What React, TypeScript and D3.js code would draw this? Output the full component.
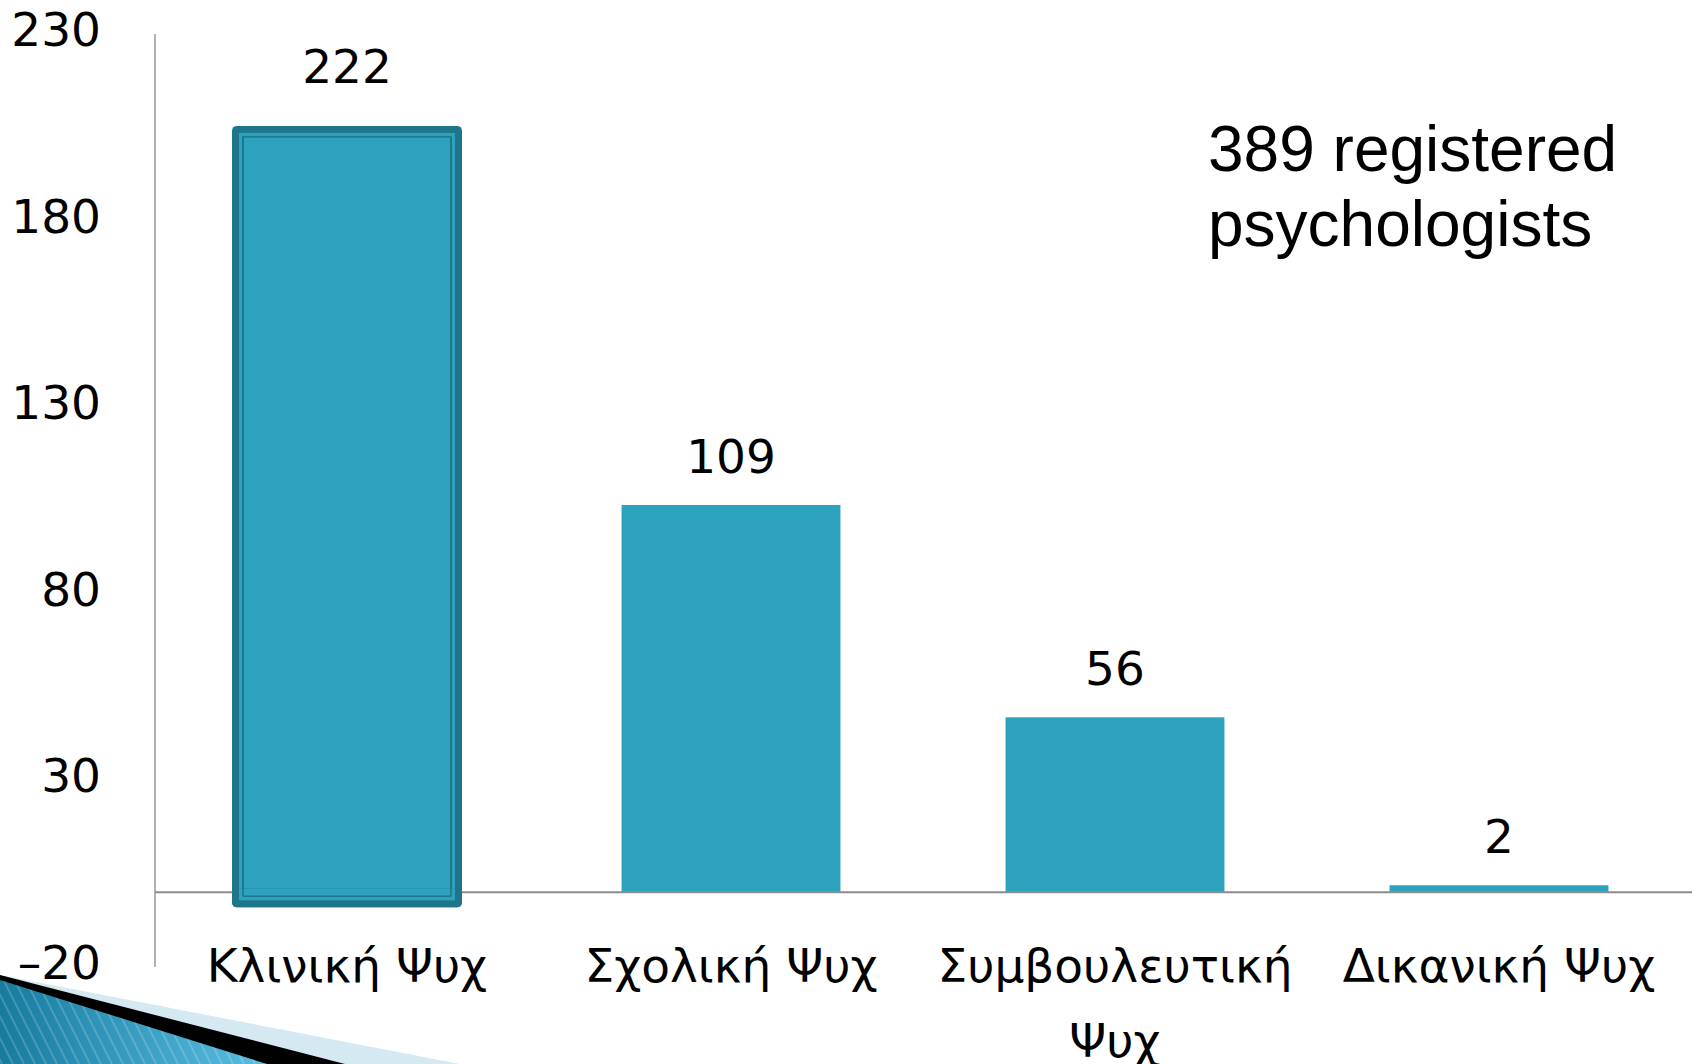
import * as d3 from "d3";

const categories = ["Κλινική Ψυχ", "Σχολική Ψυχ", "Συμβουλευτική Ψυχ", "Δικανική Ψυχ"];
// bar heights as read against the value axis
const barValues = [203.5, 103.8, 46.9, 1.9];
// data labels printed above the bars
const valueLabels = ["222", "109", "56", "2"];
const yTicks = [-20, 30, 80, 130, 180, 230];
const noteLines = ["389 registered", "psychologists"];

const width = 1696;
const height = 1064;
const axisX = 155;
const barColor = "#2ca2bf";
const borderColor = "#1f7589";
const font = "'DejaVu Sans', sans-serif";

const wrap = (s: string) => {
  if (s.length <= 13) return [s];
  const i = s.lastIndexOf(" ");
  return [s.slice(0, i), s.slice(i + 1)];
};

const App = () => {
  const xScale = d3
    .scaleBand()
    .domain(categories)
    .range([axisX, 1691])
    .paddingInner(0.43)
    .paddingOuter(0.215);

  const yScale = d3.scaleLinear().domain([-20, 230]).range([967, 34]);
  const base = yScale(0);
  const bw = xScale.bandwidth();

  // stripes for the corner ornament
  const stripes = d3.range(-120, 300, 11);

  return (
    <svg
      width={width}
      height={height}
      style={{ position: "absolute", left: 0, top: 0, background: "#fff" }}
    >
      <defs>
        <linearGradient id="corner" x1="0" x2="1" y1="0" y2="0">
          <stop offset="0%" stopColor="#177b9e" />
          <stop offset="100%" stopColor="#5cc2e6" />
        </linearGradient>
        <clipPath id="cornerClip">
          <polygon points={`0,980 267,1064 0,1064`} />
        </clipPath>
      </defs>

      {/* axes */}
      <line x1={axisX} x2={axisX} y1={yScale(230)} y2={yScale(-20)} stroke="#999" strokeWidth={1.5} />

      <g className="y-ticks" fontFamily={font} fontSize={47} fill="#000">
        {yTicks.map((t) => (
          <text key={t} x={101} y={yScale(t) + 12} textAnchor="end">
            {t < 0 ? `–${Math.abs(t)}` : t}
          </text>
        ))}
      </g>

      <g className="bars">
        {categories.map((c, i) => {
          const bx = xScale(c)!;
          const top = yScale(barValues[i]);
          const cx = bx + bw / 2;
          if (i === 0) {
            return (
              <g key={c}>
                <rect x={cx - 115} y={top - 7} width={230} height={base + 15 - (top - 7)} rx={5} fill={borderColor} />
                <rect x={cx - 108} y={top} width={216} height={base + 8 - top} fill={barColor} />
                <rect
                  x={cx - 104}
                  y={top + 4}
                  width={208}
                  height={base + 4 - (top + 4)}
                  fill="none"
                  stroke={borderColor}
                  strokeWidth={1.5}
                />
              </g>
            );
          }
          return <rect key={c} x={bx} y={top} width={bw} height={base - top} fill={barColor} />;
        })}
      </g>

      <line x1={axisX} x2={1692} y1={base} y2={base} stroke="#8c8c8c" strokeWidth={2} />

      {/* redraw highlighted bar over baseline */}
      {(() => {
        const c = categories[0];
        const cx = xScale(c)! + bw / 2;
        const top = yScale(barValues[0]);
        return (
          <g>
            <rect x={cx - 115} y={base - 4} width={230} height={19} rx={5} fill={borderColor} />
            <rect x={cx - 108} y={base - 4} width={216} height={12} fill={barColor} />
            <line x1={cx - 104} x2={cx + 104} y1={base + 4} y2={base + 4} stroke={borderColor} strokeWidth={1.5} />
            <line x1={cx - 104} x2={cx - 104} y1={top + 4} y2={base + 4} stroke={borderColor} strokeWidth={1.5} />
            <line x1={cx + 104} x2={cx + 104} y1={top + 4} y2={base + 4} stroke={borderColor} strokeWidth={1.5} />
          </g>
        );
      })()}

      <g className="value-labels" fontFamily={font} fontSize={47} textAnchor="middle">
        {categories.map((c, i) => {
          const top = yScale(barValues[i]);
          const y = i === 0 ? top - 50 : top - 32;
          return (
            <text key={c} x={xScale(c)! + bw / 2} y={y}>
              {valueLabels[i]}
            </text>
          );
        })}
      </g>

      <g className="x-labels" fontFamily={font} fontSize={47} textAnchor="middle">
        {categories.map((c) => (
          <text key={c} x={xScale(c)! + bw / 2} y={982}>
            {wrap(c).map((line, j) => (
              <tspan key={j} x={xScale(c)! + bw / 2} dy={j === 0 ? 0 : 75}>
                {line}
              </tspan>
            ))}
          </text>
        ))}
      </g>

      <g className="note" fontFamily="'Liberation Sans', Arial, sans-serif" fontSize={64}>
        {noteLines.map((l, i) => (
          <text key={l} x={1208} y={171 + i * 75}>
            {l}
          </text>
        ))}
      </g>

      {/* corner ornament */}
      <polygon points="0,975 460,1064 0,1064" fill="#d4e9f2" />
      <polygon points="0,975 345,1064 0,1064" fill="#000" />
      <g clipPath="url(#cornerClip)">
        <rect x={0} y={975} width={280} height={90} fill="url(#corner)" />
        {stripes.map((s) => (
          <line key={s} x1={s} y1={975} x2={s + 45} y2={1064} stroke="#ffffff" strokeOpacity={0.18} strokeWidth={2} />
        ))}
      </g>
    </svg>
  );
};

export default App;
